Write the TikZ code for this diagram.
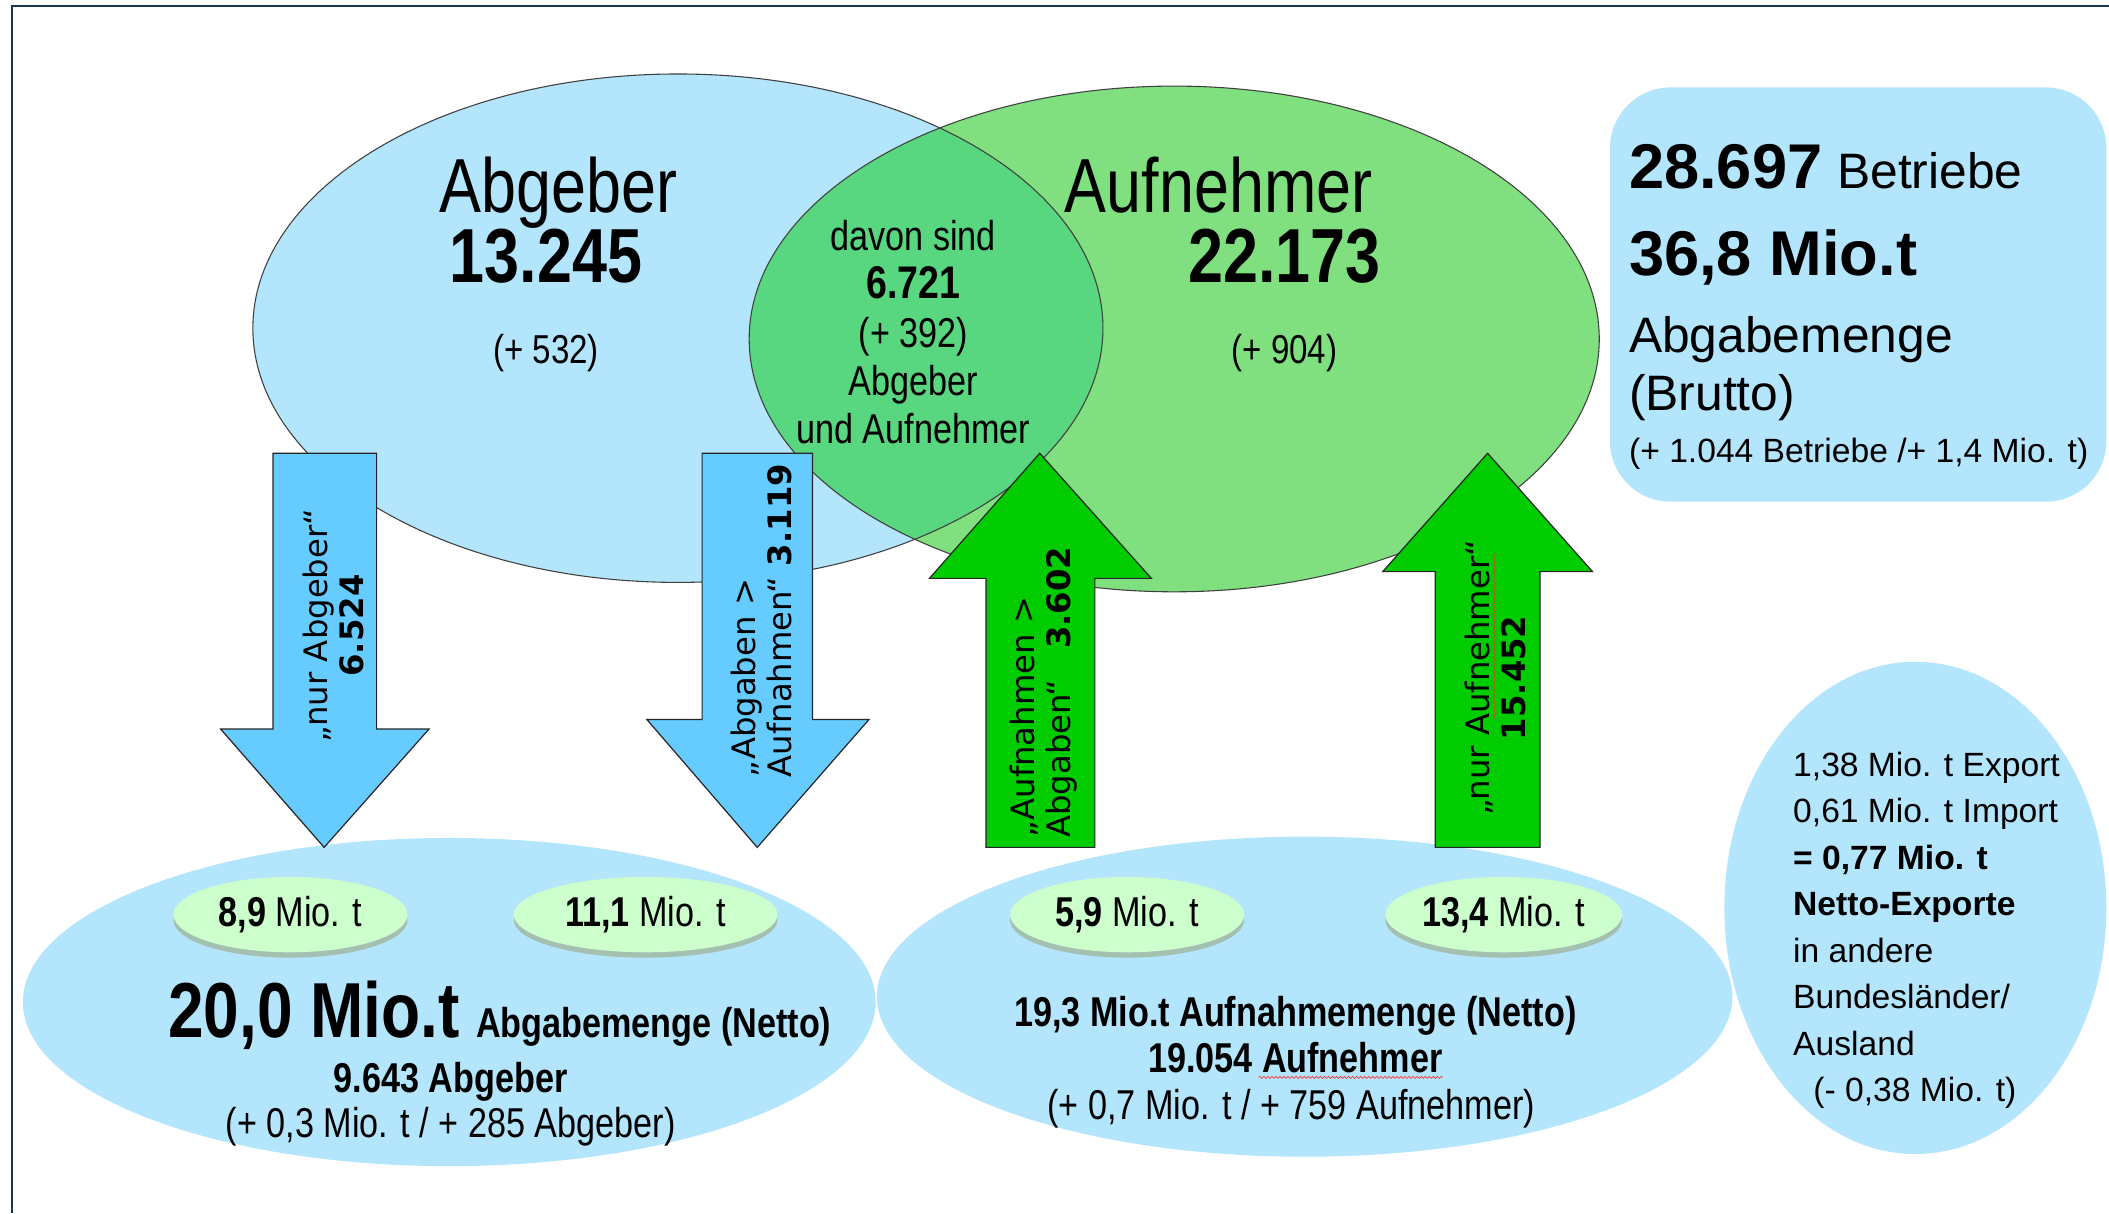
\documentclass[tikz,border=0pt]{standalone}
\usepackage{fontspec}
\setmainfont{Liberation Sans}
\newfontfamily\narrowfont[FakeStretch=0.82]{Liberation Sans}
\newfontfamily\arrowfont{DejaVu Sans}
\usetikzlibrary{shapes.geometric,shadows,decorations.pathmorphing}

\definecolor{cornice}{RGB}{31,53,80}
\definecolor{celeste}{RGB}{179,229,252}
\definecolor{verdeinsieme}{RGB}{128,224,128}
\definecolor{verdelente}{RGB}{88,214,128}
\definecolor{frecciablu}{RGB}{102,204,255}
\definecolor{frecciaverde}{RGB}{0,204,0}
\definecolor{verdechiaro}{RGB}{204,255,204}

\newcommand{\fsz}[2]{\fontsize{#1}{#2}\selectfont}

\begin{document}
\begin{tikzpicture}[x=1pt,y=-1pt]

% stili delle linee e delle frecce
\tikzset{bordo/.style={draw=black!75, line width=0.8pt}}
\tikzset{freccia/.style={fill=#1, draw=black!85, line width=0.9pt}}
\tikzset{ondina/.style={draw=red!80, line width=0.5pt, decorate, decoration={snake, amplitude=0.8pt, segment length=3pt}}}
% stili dei testi
\tikzset{testo/.style={inner sep=0pt, font=\narrowfont\fsz{31}{36}}}
\tikzset{grande/.style={inner sep=0pt, font=\narrowfont\fsz{57}{62}}}
\tikzset{grandeb/.style={inner sep=0pt, font=\narrowfont\bfseries\fsz{57}{62}}}
\tikzset{etichetta/.style={rotate=90, inner sep=0pt, font=\arrowfont\fsz{24}{27}}}
\tikzset{pillola/.style={ellipse, fill=verdechiaro, draw=none, inner sep=0pt,
    minimum height=56pt, font=\narrowfont\fsz{31}{36},
    drop shadow={shadow xshift=0pt, shadow yshift=-4pt, fill=olive!55!gray, opacity=0.4}}}

\useasboundingbox (0,0) rectangle (1568,902);

% cornice
\draw[cornice, line width=1.5pt] (9,902) -- (9,4.5) -- (1568,4.5);

% i due insiemi e la loro intersezione
\fill[celeste] (504,244) ellipse [x radius=316pt, y radius=189pt];
\fill[verdeinsieme] (873,252) ellipse [x radius=316pt, y radius=188pt];
\begin{scope}
\clip (504,244) ellipse [x radius=316pt, y radius=189pt];
\fill[verdelente] (873,252) ellipse [x radius=316pt, y radius=188pt];
\end{scope}
\draw[bordo] (504,244) ellipse [x radius=316pt, y radius=189pt];
\draw[bordo] (873,252) ellipse [x radius=316pt, y radius=188pt];

% riquadro a destra e ellissi in basso
\fill[celeste, rounded corners=45pt] (1197,65) rectangle (1566,373);
\fill[celeste] (334,745) ellipse [x radius=317pt, y radius=122pt];
\fill[celeste] (970,741) ellipse [x radius=318pt, y radius=119pt];
\fill[celeste] (1424,675) ellipse [x radius=142pt, y radius=183pt];

% pillole con le quantita
\node[pillola, minimum width=174pt] (p89) at (216,680) {\textbf{8,9} Mio. t};
\node[pillola, minimum width=196pt] (p111) at (480,680) {\textbf{11,1} Mio. t};
\node[pillola, minimum width=174pt] (p59) at (838,680) {\textbf{5,9} Mio. t};
\node[pillola, minimum width=176pt] (p134) at (1118,680) {\textbf{13,4} Mio. t};

% frecce verso il basso
\draw[freccia=frecciablu] (203,337) -- (280,337) -- (280,542) -- (319,542) -- (241,630) -- (164,542) -- (203,542) -- cycle;
\draw[freccia=frecciablu] (522,337) -- (604,337) -- (604,535) -- (646,535) -- (563,630) -- (481,535) -- (522,535) -- cycle;
% frecce verso l'alto
\draw[freccia=frecciaverde] (733,630) -- (814,630) -- (814,430) -- (856,430) -- (773,337) -- (691,430) -- (733,430) -- cycle;
\draw[freccia=frecciaverde] (1067,630) -- (1145,630) -- (1145,425) -- (1184,425) -- (1106,337) -- (1028,425) -- (1067,425) -- cycle;

% etichette delle frecce
\node[etichetta, align=center] (solabg) at (248,465) {„nur Abgeber“\\\textbf{6.524}};
\node[etichetta, align=left, anchor=west] (abgauf) at (566,578) {„Abgaben >\\Aufnahmen“ \textbf{3.119}};
\node[etichetta, align=left, anchor=west] (aufabg) at (776,623) {„Aufnahmen >\\Abgaben“\ \ \ \textbf{3.602}};
\node[etichetta, align=center] (solauf) at (1112,504) {„nur Aufnehmer“\\\textbf{15.452}};
\draw[ondina] (1111,535) -- (1111,412);

% testi degli insiemi
\node[grande, anchor=base] (abgeber) at (415,158) {Abgeber};
\node[grandeb, anchor=base] (nabgeber) at (406,210) {13.245};
\node[testo, anchor=base, font=\narrowfont\fsz{30}{36}] (dabgeber) at (406,270) {(+ 532)};
\node[grande, anchor=base] (aufnehmer) at (906,158) {Aufnehmer};
\node[grandeb, anchor=base] (naufnehmer) at (955,210) {22.173};
\node[testo, anchor=base, font=\narrowfont\fsz{30}{36}] (daufnehmer) at (955,270) {(+ 904)};
\node[testo, align=center] (davon) at (679,247) {davon sind\\{\bfseries\fsz{34}{36}6.721}\\(+ 392)\\Abgeber\\und Aufnehmer};

% riquadro brutto
\foreach \y/\txt [count=\i] in {140/{{\bfseries\fsz{47}{50}28.697}\hspace{11pt}{\fsz{37}{40}Betriebe}},
    205/{\bfseries\fsz{47}{50}36,8 Mio.t},
    262/{\fsz{37}{40}Abgabemenge},
    305/{\fsz{37}{40}(Brutto)},
    344/{\fsz{25}{30}(+ 1.044 Betriebe /+ 1,4 Mio. t)}}
\node[anchor=base west, inner sep=0pt] (brutto\i) at (1211,\y) {\txt};

% testi netto
\node[testo, anchor=base west] (nettoabg) at (125,771) {{\bfseries\fsz{58}{60}20,0 Mio.t}\hspace{5pt} {\bfseries Abgabemenge (Netto)}};
\node[testo, anchor=base, font=\narrowfont\bfseries\fsz{31}{36}] (numabg) at (335,812) {9.643 Abgeber};
\node[testo, anchor=base] (diffabg) at (335,846) {(+ 0,3 Mio. t / + 285 Abgeber)};
\node[testo, anchor=base, font=\narrowfont\bfseries\fsz{31}{36}] (nettoauf) at (963,763) {19,3 Mio.t Aufnahmemenge (Netto)};
\node[testo, anchor=base, font=\narrowfont\bfseries\fsz{31}{36}] (numauf) at (963,797) {19.054 Aufnehmer};
\node[testo, anchor=base] (diffauf) at (960,832) {(+ 0,7 Mio. t / + 759 Aufnehmer)};
\draw[ondina] ([xshift=-137pt,yshift=-4pt]numauf.base east) -- ([yshift=-4pt]numauf.base east);

% export e import
\foreach \txt [count=\i] in {{1,38 Mio. t Export}, {0,61 Mio. t Import}, {\bfseries = 0,77 Mio. t},
    {\bfseries Netto-Exporte}, {in andere}, {Bundesländer/}, {Ausland}, {\hspace*{15pt}(- 0,38 Mio. t)}}
\node[anchor=base west, inner sep=0pt, font=\fsz{25}{30}] (export\i) at (1333,542.4+34.6*\i) {\txt};

\end{tikzpicture}
\end{document}
